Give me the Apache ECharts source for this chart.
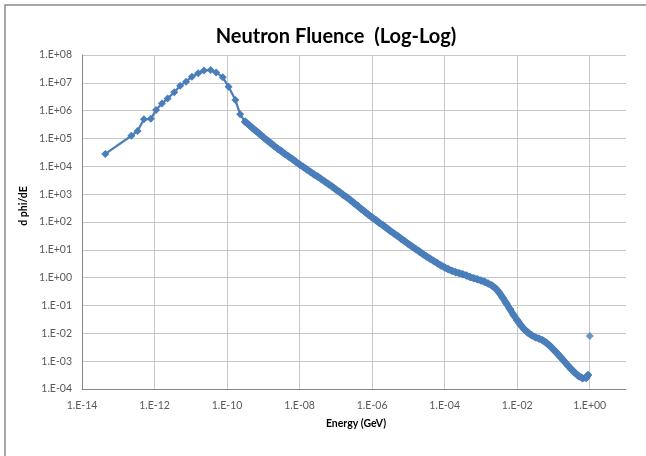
<!DOCTYPE html>
<html>
<head>
<meta charset="utf-8">
<script src="https://cdn.jsdelivr.net/npm/echarts@6/dist/echarts.min.js"></script>
<style>
  html, body { margin: 0; padding: 0; background: #ffffff; }
  #chart { width: 646px; height: 456px; }
</style>
</head>
<body>
<div id="chart"></div>
<script>
// Neutron fluence spectrum, energy in GeV vs d phi/dE
// Low-energy (thermal) readings, sparsely sampled
const thermalEnergy = [
  4.4e-14, 2.3e-13, 3.4e-13, 5.1e-13, 7.9e-13, 1.1e-12, 1.6e-12, 2.3e-12, 3.5e-12, 5.1e-12,
  7.4e-12, 1.07e-11, 1.6e-11, 2.3e-11, 3.5e-11, 5.0e-11, 7.6e-11, 1.1e-10, 1.7e-10, 2.3e-10
];
const thermalPhi = [
  2.8e4, 1.26e5, 1.86e5, 4.9e5, 5.1e5, 1.05e6, 1.8e6, 2.75e6, 4.6e6, 7.9e6,
  1.1e7, 1.66e7, 2.2e7, 2.75e7, 2.9e7, 2.35e7, 1.6e7, 7.2e6, 2.4e6, 7.4e5
];
// Epithermal to fast readings, densely sampled
const fastEnergy = [
  3.16e-10, 3.98e-10, 5.01e-10, 6.31e-10, 7.94e-10,
  1.00e-9, 1.26e-9, 1.58e-9, 2.00e-9, 2.51e-9, 3.16e-9, 3.98e-9, 5.01e-9, 6.31e-9, 7.94e-9,
  1.00e-8, 1.26e-8, 1.58e-8, 2.00e-8, 2.51e-8, 3.16e-8, 3.98e-8, 5.01e-8, 6.31e-8, 7.94e-8,
  1.00e-7, 1.26e-7, 1.58e-7, 2.00e-7, 2.51e-7, 3.16e-7, 3.98e-7, 5.01e-7, 6.31e-7, 7.94e-7,
  1.00e-6, 1.26e-6, 1.58e-6, 2.00e-6, 2.51e-6, 3.16e-6, 3.98e-6, 5.01e-6, 6.31e-6, 7.94e-6,
  1.00e-5, 1.26e-5, 1.58e-5, 2.00e-5, 2.51e-5, 3.16e-5, 3.98e-5, 5.01e-5, 6.31e-5, 7.94e-5,
  1.00e-4, 1.26e-4, 1.58e-4, 2.00e-4, 2.51e-4, 3.16e-4, 3.98e-4, 5.01e-4, 6.31e-4, 7.94e-4,
  1.00e-3, 1.26e-3, 1.58e-3, 2.00e-3, 2.51e-3, 3.16e-3, 3.98e-3, 5.01e-3, 6.31e-3, 7.94e-3,
  1.00e-2, 1.26e-2, 1.58e-2, 2.00e-2, 2.51e-2, 3.16e-2, 3.98e-2, 5.01e-2, 6.31e-2, 7.94e-2,
  1.00e-1, 1.26e-1, 1.58e-1, 2.00e-1, 2.51e-1, 3.16e-1, 3.98e-1, 5.01e-1, 6.31e-1, 7.94e-1,
  0.9
];
const fastPhi = [
  3.98e5, 3.09e5, 2.40e5, 1.86e5, 1.45e5,
  1.12e5, 8.71e4, 6.92e4, 5.37e4, 4.27e4, 3.47e4, 2.75e4, 2.24e4, 1.82e4, 1.45e4,
  1.17e4, 9.55e3, 7.76e3, 6.31e3, 5.13e3, 4.27e3, 3.47e3, 2.82e3, 2.29e3, 1.86e3,
  1.48e3, 1.20e3, 955, 776, 617, 479, 380, 295, 234, 182,
  145, 117, 93.3, 75.9, 60.3, 47.9, 38.9, 31.6, 25.1, 20.4,
  16.2, 13.2, 10.7, 8.71, 7.08, 5.75, 4.79, 3.98, 3.31, 2.75,
  2.34, 2.00, 1.78, 1.58, 1.45, 1.32, 1.20, 1.05, 0.955, 0.871,
  0.794, 0.708, 0.617, 0.525, 0.417, 0.295, 0.191, 0.120, 0.0741, 0.0457,
  0.0295, 0.0195, 0.0138, 0.0105, 0.00851, 0.00724, 0.00646, 0.00562, 0.00457, 0.00355,
  0.00263, 0.00191, 0.00138, 0.000977, 0.000692, 0.000501, 0.000372, 0.000288, 0.000245, 0.000251,
  0.000316
];
// Single detached reading at 1 GeV
const extraEnergy = [1.0];
const extraPhi = [8.0e-3];

const titleText = 'Neutron Fluence  (Log-Log)';
const xName = 'Energy (GeV)';
const yName = 'd phi/dE';

const FONT = 'Lato, "Liberation Sans", sans-serif';
const BLUE = '#4a7ebb';

function sciLabel(v) {
  const e = Math.round(Math.log10(v));
  const s = e < 0 ? '-' : '+';
  const a = Math.abs(e);
  return '1.E' + s + (a < 10 ? '0' + a : '' + a);
}

const pairs = (xs, ys) => xs.map((x, i) => [x, ys[i]]);
// thermal curve joins onto the first point of the dense part
const thermalData = pairs(thermalEnergy, thermalPhi).concat([[fastEnergy[0], fastPhi[0]]]);
const fastData = pairs(fastEnergy, fastPhi);
const extraData = pairs(extraEnergy, extraPhi);

const chart = echarts.init(document.getElementById('chart'), null, { renderer: 'canvas' });
chart.setOption({
  backgroundColor: '#ffffff',
  animation: false,
  title: {
    text: titleText,
    left: 331,
    top: 22,
    textAlign: 'center',
    textStyle: { fontFamily: FONT, fontSize: 20, fontWeight: 'bold', color: '#000000' }
  },
  grid: { left: 82, top: 55, right: 20, bottom: 67, containLabel: false },
  xAxis: {
    type: 'log',
    logBase: 10,
    min: 1e-14,
    max: 10,
    interval: 2,
    axisLine: { show: true, lineStyle: { color: '#868686', width: 1 } },
    axisTick: { show: false },
    axisLabel: {
      margin: 11,
      color: '#595959',
      fontFamily: FONT,
      fontSize: 10.5,
      showMaxLabel: false,
      formatter: v => (v > 2 ? '' : sciLabel(v))
    },
    splitLine: { show: true, showMaxLine: false, lineStyle: { color: '#c8c8c8', width: 1 } }
  },
  yAxis: {
    type: 'log',
    logBase: 10,
    min: 1e-4,
    max: 1e8,
    interval: 1,
    axisLine: { show: true, lineStyle: { color: '#868686', width: 1 } },
    axisTick: { show: false },
    axisLabel: {
      margin: 10,
      color: '#595959',
      fontFamily: FONT,
      fontSize: 10.5,
      formatter: v => sciLabel(v)
    },
    splitLine: { show: true, lineStyle: { color: '#c8c8c8', width: 1 } }
  },
  graphic: [
    {
      type: 'rect',
      shape: { x: 5, y: 5, width: 700, height: 500 },
      style: { fill: 'none', stroke: '#8a8a8a', lineWidth: 1.5 },
      silent: true
    },
    {
      type: 'text',
      x: 356,
      y: 424,
      style: {
        text: xName, fontFamily: FONT, fontSize: 10.5, fontWeight: 'bold',
        fill: '#000000', align: 'center', verticalAlign: 'middle'
      }
    },
    {
      type: 'text',
      x: 24,
      y: 206,
      rotation: Math.PI / 2,
      style: {
        text: yName, fontFamily: FONT, fontSize: 10.5, fontWeight: 'bold',
        fill: '#000000', align: 'center', verticalAlign: 'middle'
      }
    }
  ],
  series: [
    {
      type: 'line',
      data: thermalData,
      symbol: 'diamond',
      symbolSize: 8,
      showSymbol: true,
      lineStyle: { color: BLUE, width: 2.25 },
      itemStyle: { color: BLUE },
      z: 3
    },
    {
      type: 'line',
      data: fastData,
      symbol: 'diamond',
      symbolSize: 8.5,
      showSymbol: true,
      lineStyle: { color: BLUE, width: 6.5, join: 'round', cap: 'round' },
      itemStyle: { color: BLUE },
      z: 3
    },
    {
      type: 'scatter',
      data: extraData,
      symbol: 'diamond',
      symbolSize: 8,
      itemStyle: { color: BLUE },
      z: 3
    }
  ]
});
</script>
</body>
</html>
